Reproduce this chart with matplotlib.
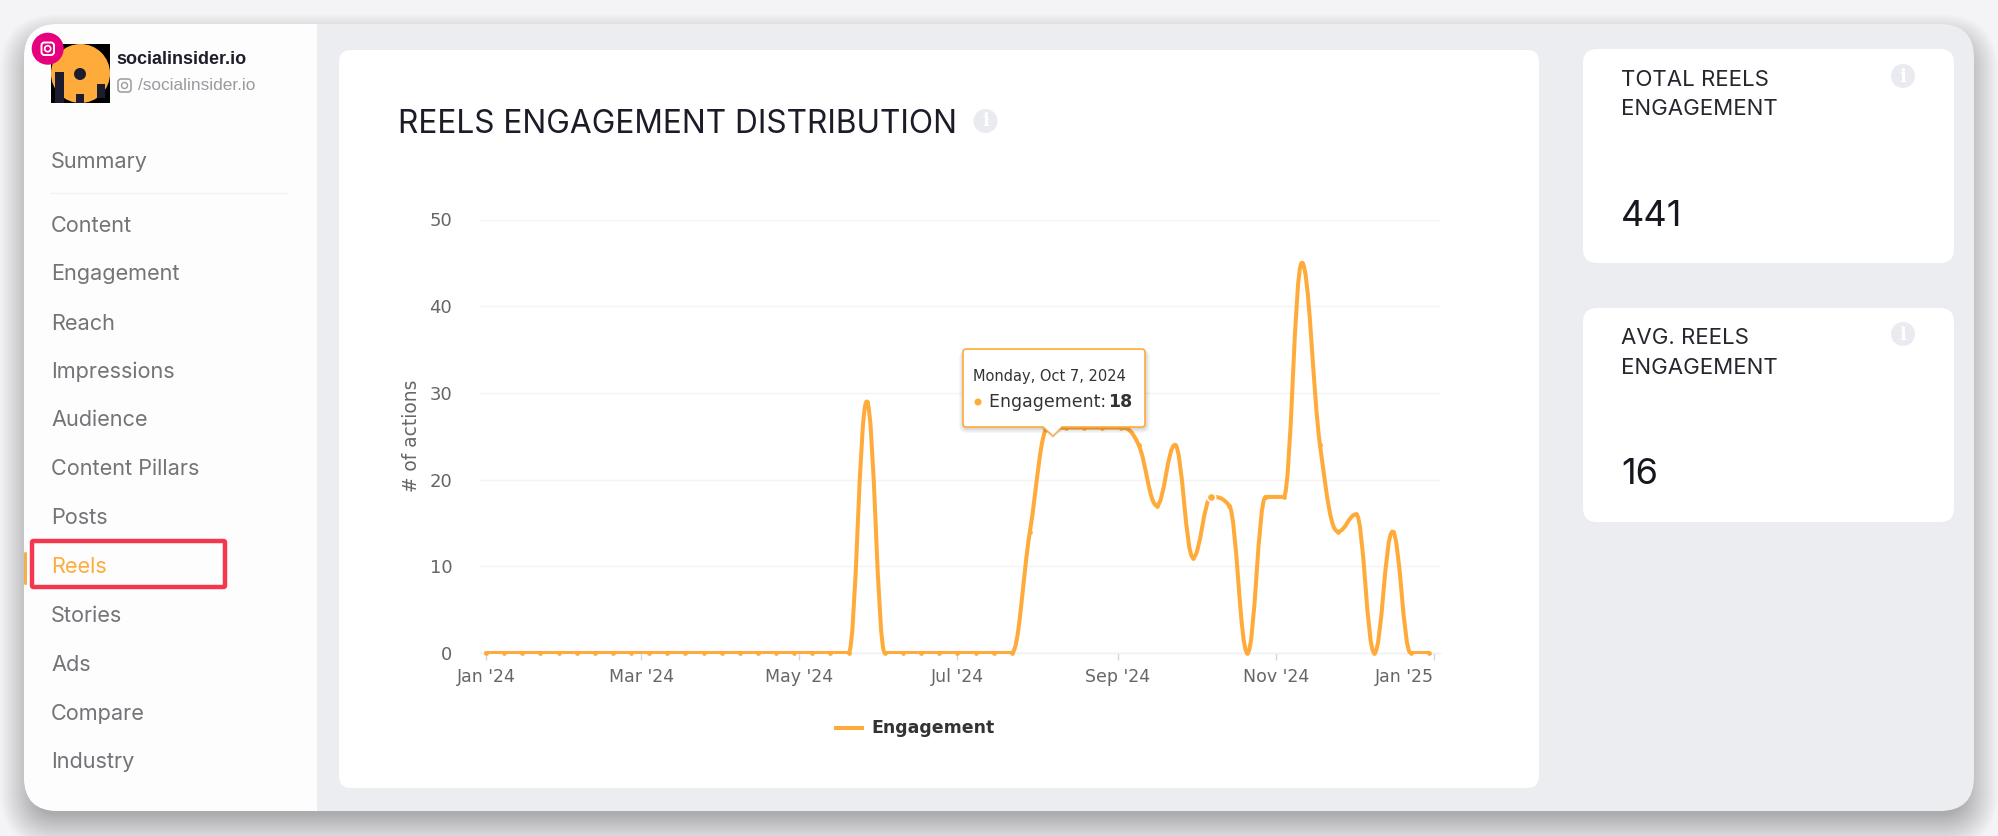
import datetime as dt
import numpy as np
import matplotlib
matplotlib.use('Agg')
import matplotlib.pyplot as plt
import matplotlib.dates as mdates
from matplotlib.patches import FancyBboxPatch, Circle, Rectangle, PathPatch, Polygon
from matplotlib.path import Path

W, H = 1999, 836
ORANGE = '#FFAB3B'
UI_FONT = 'Inter'

# weekly engagement, first point is monday jan 1 2024
values = [0] * 21 + [29] + [0] * 8 + [14, 26, 26, 26, 26, 26, 24, 17, 24, 11, 18, 17, 0,
                                     18, 18, 45, 24, 14, 16, 0, 14, 0, 0]
dates = [dt.date(2024, 1, 1) + dt.timedelta(days=7 * i) for i in range(len(values))]
x = mdates.date2num(dates)
y = np.array(values, dtype=float)


def spline_path(x, y, smoothing=1.5):
    # same control point rule the chart library uses for its spline series
    denom = smoothing + 1
    n = len(x)
    left = [None] * n
    right = [None] * n
    for i in range(1, n - 1):
        lx = (smoothing * x[i] + x[i - 1]) / denom
        ly = (smoothing * y[i] + y[i - 1]) / denom
        rx = (smoothing * x[i] + x[i + 1]) / denom
        ry = (smoothing * y[i] + y[i + 1]) / denom
        c = (ry - ly) * (rx - x[i]) / (rx - lx) + y[i] - ry
        ly += c
        ry += c
        if ly > y[i] and ly > y[i - 1]:
            ly = max(y[i - 1], y[i])
            ry = 2 * y[i] - ly
        elif ly < y[i] and ly < y[i - 1]:
            ly = min(y[i - 1], y[i])
            ry = 2 * y[i] - ly
        if ry > y[i] and ry > y[i + 1]:
            ry = max(y[i], y[i + 1])
            ly = 2 * y[i] - ry
        elif ry < y[i] and ry < y[i + 1]:
            ry = min(y[i], y[i + 1])
            ly = 2 * y[i] - ry
        left[i] = (lx, ly)
        right[i] = (rx, ry)
    verts = [(x[0], y[0])]
    codes = [Path.MOVETO]
    for i in range(1, n):
        verts.append(right[i - 1] if right[i - 1] else (x[i - 1], y[i - 1]))
        verts.append(left[i] if left[i] else (x[i], y[i]))
        verts.append((x[i], y[i]))
        codes += [Path.CURVE4] * 3
    return Path(verts, codes)


def box(a, x0, y0, x1, y1, r, **kw):
    p = FancyBboxPatch((x0, y0), x1 - x0, y1 - y0, boxstyle=f'round,pad=0,rounding_size={r}', **kw)
    a.add_patch(p)
    return p


def info_icon(a, cx, cy):
    a.add_patch(Circle((cx, cy), 12, fc='#EAEBF0', ec='none'))
    a.text(cx, cy + 0.5, 'i', color='white', fontsize=13, fontweight='bold', family='DejaVu Serif',
           ha='center', va='center')


fig = plt.figure(figsize=(W / 100, H / 100), dpi=100, facecolor='#F4F4F6')

# background layer in pixel coords
bg = fig.add_axes([0, 0, 1, 1])
bg.set_xlim(0, W)
bg.set_ylim(H, 0)
bg.axis('off')

# soft shadow of the dashboard card, sits lower than the card
for i in range(36, 0, -1):
    e = max(i - 12, -12)
    box(bg, 24 - e, 38 - e, 1974 + e, 825 + e, max(34 + e, 8), fc='black', ec='none', alpha=0.009)
box(bg, 24, 24, 1974, 811, 34, fc='#ECEDF1', ec='none')

# sidebar, white part with the rounded left corners
side = box(bg, 24, 24, 380, 811, 34, fc='#FDFDFD', ec='none')
side.set_clip_path(Rectangle((0, 0), 317, H, transform=bg.transData))

box(bg, 339, 50, 1539, 788, 12, fc='white', ec='none')
box(bg, 1583, 49, 1954, 263, 14, fc='white', ec='none')
box(bg, 1583, 308, 1954, 522, 14, fc='white', ec='none')

# avatar
bg.add_patch(Rectangle((51, 44), 59, 59, fc='black', ec='none'))
clip = Rectangle((51, 44), 59, 59, transform=bg.transData)
c = Circle((80.5, 73.5), 29.5, fc='#FFAB3B', ec='none')
bg.add_patch(c)
c.set_clip_path(clip)
for bx0, by0, bx1, by1 in [(55, 72, 64, 103), (76, 94, 84, 103), (97, 84, 105, 98)]:
    bg.add_patch(Rectangle((bx0, by0), bx1 - bx0, by1 - by0, fc='#1D1B2E', ec='none'))
bg.add_patch(Circle((80, 74), 6, fc='#1D1B2E', ec='none'))
bg.add_patch(Circle((47.7, 48.7), 16, fc='#E6007E', ec='none'))
box(bg, 41.5, 42.5, 54, 55, 3, fc='none', ec='white', lw=1.4)
bg.add_patch(Circle((47.7, 48.7), 3, fc='none', ec='white', lw=1.2))
box(bg, 118, 79, 131, 92, 3, fc='none', ec='#9B9BA0', lw=1.1)
bg.add_patch(Circle((124.5, 85.5), 3, fc='none', ec='#9B9BA0', lw=1.0))

bg.text(116, 60, 'socialinsider.io', family='Liberation Sans', fontweight='bold', fontsize=13,
        color='#1D1D2B', va='center')
bg.text(138, 85, '/socialinsider.io', family='Liberation Sans', fontsize=12.4, color='#9A9AA0', va='center')

# sidebar menu
menu = [('Summary', 160.6), ('Content', 224.5), ('Engagement', 273), ('Reach', 322.5), ('Impressions', 371),
        ('Audience', 419.5), ('Content Pillars', 468), ('Posts', 516.5), ('Reels', 566), ('Stories', 614.5),
        ('Ads', 664), ('Compare', 712.5), ('Industry', 761)]
for name, my in menu:
    col = ORANGE if name == 'Reels' else '#737378'
    bg.text(51, my + 1, name, family=UI_FONT, fontsize=15.6, color=col, va='center')
bg.plot([51, 287], [192.5, 192.5], color='#F1F1F3', lw=1)
box(bg, 24, 552, 27, 585, 1.5, fc='#F2B04A', ec='none')

# title and stat cards
bg.text(398, 124.5, 'REELS ENGAGEMENT DISTRIBUTION', family=UI_FONT, fontsize=22.8, color='#1C1C28', va='center')
info_icon(bg, 985.5, 121)

bg.text(1621, 80, 'TOTAL REELS', family=UI_FONT, fontsize=16, color='#26262F', va='center')
bg.text(1621, 109, 'ENGAGEMENT', family=UI_FONT, fontsize=16, color='#26262F', va='center')
bg.text(1621, 216, '441', family=UI_FONT, fontsize=26, color='#17171F', va='center')
info_icon(bg, 1903, 76)
bg.text(1621, 338.5, 'AVG. REELS', family=UI_FONT, fontsize=16, color='#26262F', va='center')
bg.text(1621, 367.5, 'ENGAGEMENT', family=UI_FONT, fontsize=16, color='#26262F', va='center')
bg.text(1621, 474, '16', family=UI_FONT, fontsize=26, color='#17171F', va='center')
info_icon(bg, 1903, 334)

# the chart
px_left, px_right, px_top, px_bottom = 480, 1440, 219.5, 653
ax = fig.add_axes([px_left / W, 1 - px_bottom / H, (px_right - px_left) / W, (px_bottom - px_top) / H])
ax.patch.set_alpha(0)
d0 = mdates.date2num(dt.date(2024, 1, 1))
per_day = 2.59
ax.set_xlim(d0 - (486 - px_left) / per_day, d0 + (px_right - 486) / per_day)
ax.set_ylim(0, 50)
for s in ['top', 'left', 'right']:
    ax.spines[s].set_visible(False)
ax.spines['bottom'].set_color('#EEF0F5')
ax.spines['bottom'].set_linewidth(1)
ax.set_yticks([0, 10, 20, 30, 40, 50])
ax.xaxis.set_major_locator(mdates.MonthLocator(bymonth=[1, 3, 5, 7, 9, 11]))
ax.xaxis.set_major_formatter(mdates.DateFormatter("%b '%y"))
ax.grid(axis='y', color='#F3F3F3', lw=1)
ax.set_axisbelow(True)
ax.tick_params(axis='y', length=0, pad=20, labelsize=13, labelcolor='#666666')
ax.tick_params(axis='x', length=5, width=1, color='#CCD6EB', pad=6, labelsize=12.5, labelcolor='#666666')
ax.set_ylabel('# of actions', fontsize=13.4, color='#666666', labelpad=6)

line = PathPatch(spline_path(x, y), fc='none', ec=ORANGE, lw=2.9, capstyle='round', joinstyle='round', zorder=3)
ax.add_patch(line)
# flat part sits on the axis, let it show a bit below zero
line.set_clip_path(Rectangle((0, -0.003), 1, 1.003, transform=ax.transAxes))
ax.plot(x, y, linestyle='none', marker='o', ms=2.4, color=ORANGE, zorder=3, clip_on=False)
ax.plot(x[40], y[40], marker='o', ms=6, mfc=ORANGE, mec='white', mew=1.2, zorder=4)

# last label is pushed inside the plot
fig.canvas.draw()
ax.get_xticklabels()[-1].set_ha('right')

# overlay for tooltip and legend
top = fig.add_axes([0, 0, 1, 1], zorder=5)
top.set_xlim(0, W)
top.set_ylim(H, 0)
top.axis('off')
top.patch.set_alpha(0)

for i in range(5, 0, -1):
    box(top, 963 - i + 1, 349 + 1, 1145 + i, 427 + i + 1, 3 + i, fc='black', ec='none', alpha=0.03)
top.add_patch(Polygon([[1041, 428], [1064, 428], [1053, 438]], closed=True, fc='black', ec='none', alpha=0.12))
box(top, 963, 349, 1145, 427, 3, fc='white', ec=ORANGE, lw=1.2)
top.add_patch(Polygon([[1043, 426], [1062, 426], [1053, 436]], closed=True, fc='white', ec='none'))
top.plot([1043, 1053, 1062], [427, 436, 427], color=ORANGE, lw=1.0)
top.text(973, 376, 'Monday, Oct 7, 2024', fontsize=10.5, color='#333333', va='center')
top.add_patch(Circle((978, 402), 3.5, fc=ORANGE, ec='none'))
top.text(989, 402, 'Engagement: ', fontsize=12.5, color='#333333', va='center')
top.text(1108, 402, '18', fontsize=12.5, color='#333333', fontweight='bold', va='center')

top.plot([836, 862], [728, 728], color=ORANGE, lw=2.9)
top.text(871, 728, 'Engagement', fontsize=12.5, fontweight='bold', color='#333333', va='center')

# red highlight around the reels item
box(top, 32, 541, 225, 587, 1.5, fc='none', ec='#F5364F', lw=3.2)

fig.savefig('out.png', dpi=100, facecolor=fig.get_facecolor())
